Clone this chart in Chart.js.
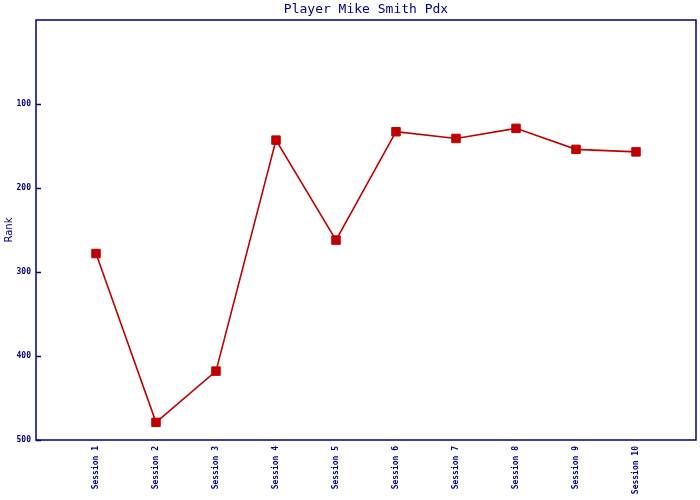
<!DOCTYPE html>
<html>
<head>
<meta charset="utf-8">
<script src="https://cdn.jsdelivr.net/npm/chart.js@4/dist/chart.umd.min.js"></script>
<style>
  html, body { margin: 0; padding: 0; background: #fff; }
  canvas { display: block; }
</style>
</head>
<body>
<canvas id="rankChart" width="700" height="500"></canvas>
<script>
// Data for the chart
const sessions = ['Session 1', 'Session 2', 'Session 3', 'Session 4', 'Session 5',
                  'Session 6', 'Session 7', 'Session 8', 'Session 9', 'Session 10'];
const ranks = [278, 479, 418, 143, 262, 133, 141, 129, 154, 157];
const rankTicks = [100, 200, 300, 400, 500];

const navy = '#000080';
const red = '#c00000';
const mono = "'DejaVu Sans Mono', 'Liberation Mono', monospace";

// frame around the plot + short inward ticks on the y axis
const framePlugin = {
  id: 'frame',
  afterLayout(chart) {
    // centre the title over the plot area
    if (chart.titleBlock) {
      chart.titleBlock.left = chart.chartArea.left;
      chart.titleBlock.right = chart.chartArea.right;
    }
  },
  afterDraw(chart) {
    const { ctx, chartArea } = chart;
    const y = chart.scales.y;
    ctx.save();
    ctx.strokeStyle = navy;
    ctx.lineWidth = 1.5;
    ctx.strokeRect(chartArea.left, chartArea.top,
                   chartArea.right - chartArea.left, chartArea.bottom - chartArea.top);
    ctx.beginPath();
    rankTicks.forEach(v => {
      const py = Math.round(y.getPixelForValue(v)) + 0.5;
      ctx.moveTo(chartArea.left, py);
      ctx.lineTo(chartArea.left + 5, py);
    });
    ctx.stroke();
    ctx.restore();
  }
};

const ctx = document.getElementById('rankChart').getContext('2d');
new Chart(ctx, {
  type: 'line',
  data: {
    datasets: [{
      label: 'Rank',
      data: ranks.map((r, i) => ({ x: i + 1, y: r })),
      borderColor: red,
      backgroundColor: red,
      borderWidth: 1.6,
      tension: 0,
      pointStyle: 'rect',
      pointRadius: 6,
      pointBorderWidth: 1,
      pointBorderColor: red,
      pointBackgroundColor: red,
    }],
  },
  options: {
    responsive: false,
    animation: false,
    layout: { autoPadding: false, padding: { left: 0, right: 4, top: 0, bottom: 0 } },
    plugins: {
      legend: { display: false },
      tooltip: { enabled: false },
      title: {
        display: true,
        text: 'Player Mike Smith Pdx',
        color: navy,
        font: { family: mono, size: 13, weight: 'normal', lineHeight: 1.2 },
        padding: { top: 2, bottom: 2.4 },
      },
    },
    scales: {
      x: {
        type: 'linear',
        min: 0,
        max: sessions.length + 1,
        afterBuildTicks: (axis) => {
          axis.ticks = sessions.map((s, i) => ({ value: i + 1 }));
        },
        afterFit: (axis) => {
          axis.height = 60;
          axis.paddingLeft = 0;
          axis.paddingRight = 0;
        },
        grid: { display: false, drawTicks: false },
        border: { display: false },
        ticks: {
          autoSkip: false,
          minRotation: 90,
          maxRotation: 90,
          padding: 6,
          color: navy,
          font: { family: mono, size: 8, weight: 'bold' },
          callback: (v) => sessions[v - 1] || '',
        },
      },
      y: {
        type: 'linear',
        reverse: true,
        min: 0,
        max: 500,
        afterBuildTicks: (axis) => {
          axis.ticks = rankTicks.map(v => ({ value: v }));
        },
        afterFit: (axis) => { axis.width = 36; },
        grid: { display: false, drawTicks: false },
        border: { display: false },
        title: {
          display: true,
          text: 'Rank',
          color: navy,
          font: { family: "'DejaVu Sans', sans-serif", size: 10 },
          padding: { top: 3, bottom: 0 },
        },
        ticks: {
          padding: 5,
          color: navy,
          font: { family: mono, size: 8, weight: 'bold' },
        },
      },
    },
  },
  plugins: [framePlugin],
});
</script>
</body>
</html>
